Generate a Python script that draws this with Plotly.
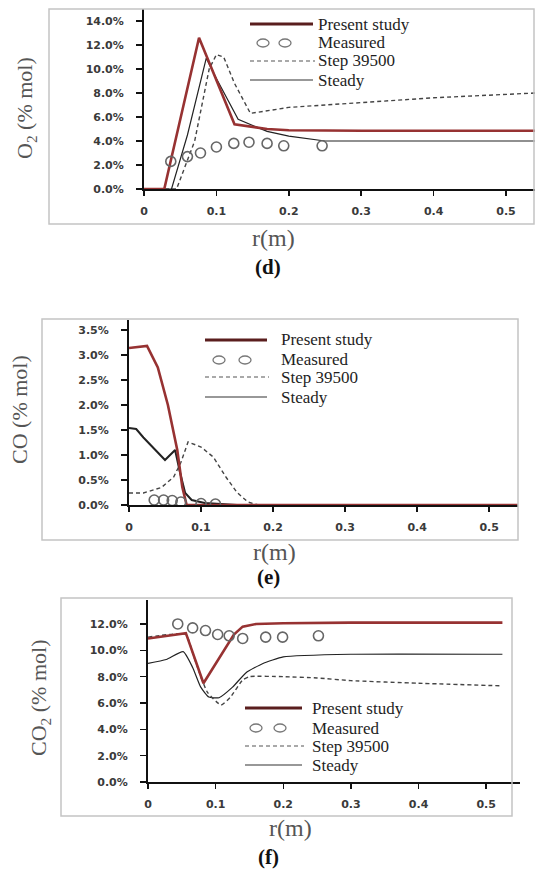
import plotly.graph_objects as go

W, H = 535, 870

# ---------------- data: panel (d) O2 ----------------
o2_r_present = [0, 0.028, 0.076, 0.125, 0.17, 0.2, 0.3, 0.54]
o2_present = [0, 0, 12.6, 5.4, 5.0, 4.9, 4.85, 4.85]
o2_r_step = [0, 0.045, 0.07, 0.09, 0.1, 0.11, 0.125, 0.147, 0.2, 0.3, 0.4, 0.54]
o2_step = [0, 0, 4.0, 10.0, 11.2, 11.0, 8.8, 6.3, 6.8, 7.2, 7.6, 8.0]
o2_r_steady = [0, 0.038, 0.06, 0.086, 0.1, 0.13, 0.17, 0.2, 0.25, 0.54]
o2_steady = [0, 0, 4.5, 10.9, 9.2, 5.8, 4.8, 4.4, 4.0, 4.0]
o2_r_meas = [0.037, 0.06, 0.078, 0.1, 0.124, 0.145, 0.17, 0.193, 0.246]
o2_meas = [2.3, 2.7, 3.0, 3.5, 3.8, 3.9, 3.8, 3.6, 3.6]
o2_yticks = [0, 2, 4, 6, 8, 10, 12, 14]
o2_yticklabels = ["0.0%", "2.0%", "4.0%", "6.0%", "8.0%", "10.0%", "12.0%", "14.0%"]

# ---------------- data: panel (e) CO ----------------
co_r_present = [0, 0.025, 0.04, 0.054, 0.067, 0.074, 0.08, 0.54]
co_present = [3.14, 3.18, 2.75, 2.0, 1.1, 0.36, 0.0, 0.0]
co_r_step = [0, 0.02, 0.045, 0.062, 0.072, 0.082, 0.1, 0.117, 0.135, 0.15, 0.165, 0.18, 0.54]
co_step = [0.24, 0.24, 0.35, 0.56, 0.85, 1.26, 1.16, 0.96, 0.55, 0.25, 0.06, 0.0, 0.0]
co_r_steady = [0, 0.01, 0.02, 0.05, 0.064, 0.07, 0.078, 0.087, 0.105, 0.15, 0.54]
co_steady = [1.54, 1.52, 1.35, 0.9, 1.1, 0.7, 0.24, 0.1, 0.04, 0.0, 0.0]
co_r_meas = [0.035, 0.048, 0.06, 0.072, 0.1, 0.12]
co_meas = [0.1, 0.1, 0.09, 0.06, 0.03, 0.02]
co_yticks = [0, 0.5, 1.0, 1.5, 2.0, 2.5, 3.0, 3.5]
co_yticklabels = ["0.0%", "0.5%", "1.0%", "1.5%", "2.0%", "2.5%", "3.0%", "3.5%"]

# ---------------- data: panel (f) CO2 ----------------
co2_r_present = [0, 0.056, 0.082, 0.127, 0.14, 0.16, 0.2, 0.3, 0.524]
co2_present = [10.9, 11.3, 7.5, 11.2, 11.8, 12.0, 12.05, 12.1, 12.1]
co2_r_step = [0, 0.056, 0.066, 0.078, 0.088, 0.108, 0.122, 0.14, 0.15, 0.2, 0.25, 0.3, 0.4, 0.524]
co2_step = [11.0, 11.2, 9.8, 8.0, 6.8, 5.85, 6.45, 7.75, 8.0, 8.0, 7.9, 7.7, 7.5, 7.3]
co2_r_steady = [0, 0.027, 0.052, 0.066, 0.078, 0.09, 0.105, 0.125, 0.145, 0.17, 0.2, 0.3, 0.524]
co2_steady = [9.0, 9.3, 9.9, 8.7, 7.2, 6.45, 6.4, 7.2, 8.3, 9.0, 9.5, 9.7, 9.7]
co2_r_meas = [0.044, 0.066, 0.085, 0.103, 0.12, 0.14, 0.174, 0.199, 0.252]
co2_meas = [12.0, 11.7, 11.5, 11.2, 11.1, 10.9, 11.0, 11.0, 11.1]
co2_yticks = [0, 2, 4, 6, 8, 10, 12]
co2_yticklabels = ["0.0%", "2.0%", "4.0%", "6.0%", "8.0%", "10.0%", "12.0%"]

r_ticks = [0, 0.1, 0.2, 0.3, 0.4, 0.5]
r_ticklabels = ["0", "0.1", "0.2", "0.3", "0.4", "0.5"]

legend_names = ["Present study", "Measured", "Step 39500", "Steady"]

# ---------------- styles ----------------
RED = "#973232"
DARK = "#222222"
SERIF = "Liberation Serif"
TICKFONT = dict(family="DejaVu Sans", size=11, color="#3a3a3a", weight="bold")


def px(x):
    return x / W


def py(y):
    return 1 - y / H


fig = go.Figure()

panels = [
    ("", (o2_r_present, o2_present), (o2_r_step, o2_step), (o2_r_steady, o2_steady),
     (o2_r_meas, o2_meas), o2_yticks, o2_yticklabels, (144, 535), (9, 189), 0.54, 15.0, "linear"),
    ("2", (co_r_present, co_present), (co_r_step, co_step), (co_r_steady, co_steady),
     (co_r_meas, co_meas), co_yticks, co_yticklabels, (129, 518), (320, 505), 0.54, 3.7, "linear"),
    ("3", (co2_r_present, co2_present), (co2_r_step, co2_step), (co2_r_steady, co2_steady),
     (co2_r_meas, co2_meas), co2_yticks, co2_yticklabels, (148, 520), (600, 782), 0.55, 13.82, "spline"),
]

for i, (sfx, pres, step, stdy, meas, yt, ytl, xd, yd, xmax, ymax, shp) in enumerate(panels):
    xa, ya = "x" + sfx, "y" + sfx
    steady_w = 2.0 if sfx == "2" else 1.2
    fig.add_trace(go.Scatter(x=stdy[0], y=stdy[1], mode="lines", xaxis=xa, yaxis=ya,
                             line=dict(color=DARK, width=steady_w, shape=shp, smoothing=0.5),
                             name=legend_names[3], showlegend=False))
    fig.add_trace(go.Scatter(x=step[0], y=step[1], mode="lines", xaxis=xa, yaxis=ya,
                             line=dict(color="#444444", width=1.4, dash="4px,3px", shape=shp, smoothing=0.5),
                             name=legend_names[2], showlegend=False))
    fig.add_trace(go.Scatter(x=pres[0], y=pres[1], mode="lines", xaxis=xa, yaxis=ya,
                             line=dict(color=RED, width=2.6),
                             name=legend_names[0], showlegend=False))
    fig.add_trace(go.Scatter(x=meas[0], y=meas[1], mode="markers", xaxis=xa, yaxis=ya,
                             marker=dict(symbol="circle-open", size=10, color="#666666",
                                         line=dict(width=1.6, color="#666666")),
                             name=legend_names[1], showlegend=False))

    axis_common = dict(showgrid=False, zeroline=False, showline=True, linecolor="#111111",
                       linewidth=2, ticks="outside", tickcolor="#111111", tickwidth=1.5,
                       tickfont=TICKFONT, automargin=False)
    fig.layout["xaxis" + sfx] = dict(
        domain=[px(xd[0]), px(xd[1])], range=[0, xmax], anchor=ya,
        tickvals=r_ticks, ticktext=r_ticklabels, ticklen=5, ticklabelstandoff=6, **axis_common)
    fig.layout["yaxis" + sfx] = dict(
        domain=[py(yd[1]), py(yd[0])], range=[0, ymax], anchor=xa,
        tickvals=yt, ticktext=ytl, ticklen=6, ticklabelstandoff=10, **axis_common)

shapes = []
annotations = []

# chart-area frames
for (x0, y0, x1, y1) in [(49, 9, 534, 224), (42, 319, 518, 540), (61, 598, 512, 816)]:
    shapes.append(dict(type="rect", xref="paper", yref="paper", x0=px(x0), x1=px(x1),
                       y0=py(y1), y1=py(y0), line=dict(color="#c4c4c4", width=1.5)))

# legends: (line x0, line x1, text x, y present, y measured, y step, y steady, circle x1, circle x2)
legends = [
    (250, 313, 316, 24, 43, 61, 80, 263, 285),
    (205, 267, 279, 340, 360, 377, 397, 219, 245),
    (245, 302, 310, 708, 728, 746, 765, 256, 280),
]
for (lx0, lx1, tx, yp, ym, ys, yst, c1, c2) in legends:
    shapes.append(dict(type="line", xref="paper", yref="paper", x0=px(lx0), x1=px(lx1),
                       y0=py(yp), y1=py(yp), line=dict(color="#5a1e1e", width=3)))
    shapes.append(dict(type="line", xref="paper", yref="paper", x0=px(lx0), x1=px(lx1 + 2),
                       y0=py(ys), y1=py(ys), line=dict(color="#555555", width=1.2, dash="4px,3px")))
    shapes.append(dict(type="line", xref="paper", yref="paper", x0=px(lx0), x1=px(lx1),
                       y0=py(yst), y1=py(yst), line=dict(color="#333333", width=1.2)))
    for cx in (c1, c2):
        shapes.append(dict(type="circle", xref="paper", yref="paper",
                           x0=px(cx - 6), x1=px(cx + 6), y0=py(ym + 4), y1=py(ym - 4),
                           line=dict(color="#777777", width=1.3)))
    for name, yy in zip(legend_names, (yp, ym, ys, yst)):
        annotations.append(dict(text=name, xref="paper", yref="paper", x=px(tx), y=py(yy),
                                xanchor="left", yanchor="middle", showarrow=False,
                                font=dict(family=SERIF, size=17, color="#1e1e1e")))

# axis titles
for txt, (x, y) in [("O<sub>2</sub> (% mol)", (26, 108)), ("CO (% mol)", (19, 410)),
                    ("CO<sub>2</sub> (% mol)", (40, 698))]:
    annotations.append(dict(text=txt, xref="paper", yref="paper", x=px(x), y=py(y),
                            xanchor="center", yanchor="middle", textangle=-90, showarrow=False,
                            font=dict(family=SERIF, size=22, color="#555555")))
for (x, y) in [(273, 238), (274, 552), (290, 828)]:
    annotations.append(dict(text="r(m)", xref="paper", yref="paper", x=px(x), y=py(y),
                            xanchor="center", yanchor="middle", showarrow=False,
                            font=dict(family=SERIF, size=24, color="#555555")))
for txt, (x, y) in [("(d)", (268, 267)), ("(e)", (268, 577)), ("(f)", (268, 857))]:
    annotations.append(dict(text="<b>" + txt + "</b>", xref="paper", yref="paper", x=px(x), y=py(y),
                            xanchor="center", yanchor="middle", showarrow=False,
                            font=dict(family=SERIF, size=21, color="#111111")))

fig.update_layout(width=W, height=H, margin=dict(l=0, r=0, t=0, b=0, pad=0),
                  paper_bgcolor="white", plot_bgcolor="white", showlegend=False,
                  shapes=shapes, annotations=annotations)

fig.write_html("out.html", config={"displayModeBar": False, "staticPlot": True},
               post_script="document.body.style.margin='0';document.body.style.overflow='hidden';")
